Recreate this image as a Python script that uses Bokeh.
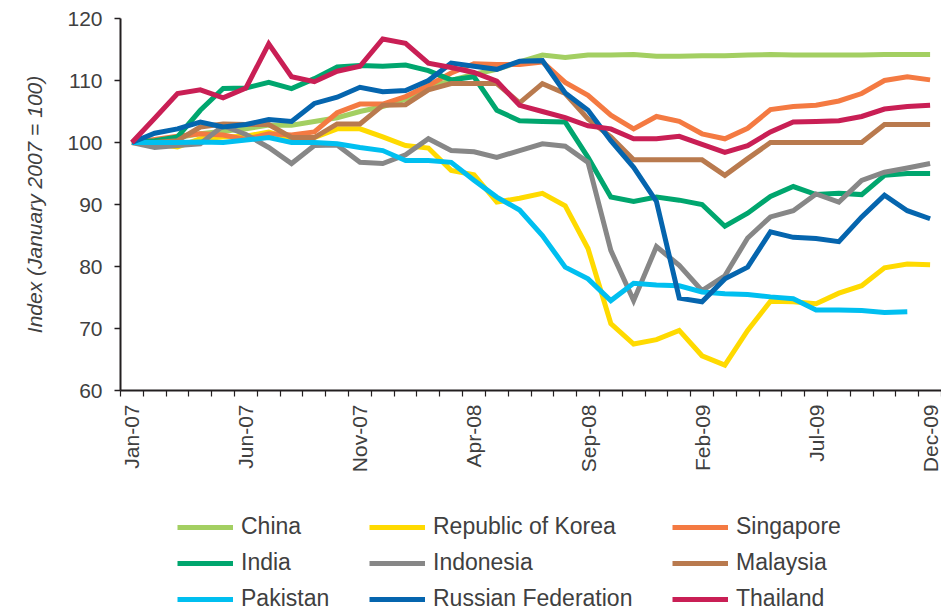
import math
import numpy as np
from bokeh.plotting import figure
from bokeh.layouts import column
from bokeh.models import FixedTicker, Legend, LegendItem, Range1d
from bokeh.embed import file_html
from bokeh.resources import INLINE

month_names = ["Jan", "Feb", "Mar", "Apr", "May", "Jun", "Jul", "Aug", "Sep", "Oct", "Nov", "Dec"]
years = ["07", "08", "09"]
months = [f"{m}-{y}" for y in years for m in month_names]
label_every = 5

china = [100.0, 100.3, 100.8, 101.4, 101.8, 102.2, 102.8, 102.8, 103.4, 104.0, 105.0, 105.8,
         107.0, 108.8, 110.0, 111.0, 111.8, 113.0, 114.1, 113.7, 114.1, 114.1, 114.2, 113.9,
         113.9, 114.0, 114.0, 114.1, 114.2, 114.1, 114.1, 114.1, 114.1, 114.2, 114.2, 114.2]
korea = [100.0, 99.8, 99.3, 100.6, 100.9, 101.0, 101.7, 100.6, 100.8, 102.2, 102.2, 100.9,
         99.5, 99.1, 95.5, 94.8, 90.4, 91.0, 91.8, 89.8, 82.9, 70.8, 67.5, 68.2,
         69.7, 65.6, 64.1, 69.7, 74.4, 74.3, 74.0, 75.7, 76.9, 79.8, 80.4, 80.3]
singapore = [100.0, 100.5, 101.0, 101.4, 101.2, 100.5, 101.4, 101.2, 101.7, 104.8, 106.2, 106.2,
             107.4, 109.2, 111.2, 112.7, 112.6, 112.6, 113.0, 109.7, 107.6, 104.4, 102.2, 104.2,
             103.4, 101.4, 100.6, 102.3, 105.3, 105.8, 106.0, 106.7, 107.9, 110.0, 110.6, 110.1]
india = [100.0, 100.3, 100.9, 105.2, 108.7, 108.8, 109.7, 108.7, 110.3, 112.2, 112.4, 112.3,
         112.5, 111.6, 110.1, 110.6, 105.2, 103.5, 103.4, 103.3, 97.6, 91.2, 90.5, 91.2,
         90.7, 90.0, 86.5, 88.6, 91.3, 92.9, 91.6, 91.8, 91.6, 94.7, 95.0, 95.0]
indonesia = [100.0, 99.2, 99.5, 99.8, 102.7, 101.3, 99.2, 96.6, 99.5, 99.6, 96.8, 96.6,
             98.0, 100.6, 98.7, 98.5, 97.6, 98.7, 99.8, 99.4, 96.8, 82.6, 74.5, 83.2,
             80.2, 76.1, 78.5, 84.6, 88.0, 89.0, 91.7, 90.4, 93.9, 95.2, 95.9, 96.6]
malaysia = [100.0, 100.0, 100.3, 102.5, 103.0, 102.9, 102.9, 100.8, 100.8, 103.0, 103.0, 106.0,
            106.1, 108.5, 109.5, 109.5, 109.5, 106.4, 109.5, 107.9, 103.8, 100.9, 97.2, 97.2,
            97.2, 97.2, 94.7, 97.4, 100.0, 100.0, 100.0, 100.0, 100.0, 102.9, 102.9, 102.9]
pakistan = [100.0, 100.0, 100.0, 100.1, 100.0, 100.4, 100.8, 100.0, 100.0, 99.8, 99.2, 98.7,
            97.1, 97.1, 96.8, 93.9, 91.2, 89.1, 85.0, 79.9, 78.0, 74.5, 77.3, 77.0,
            76.9, 75.9, 75.6, 75.5, 75.1, 74.8, 73.0, 73.0, 72.9, 72.6, 72.7, None]
russia = [100.0, 101.5, 102.2, 103.3, 102.5, 102.9, 103.7, 103.4, 106.3, 107.3, 108.9, 108.2,
          108.4, 110.0, 112.8, 112.3, 111.8, 113.1, 113.2, 108.0, 105.2, 100.3, 96.0, 90.5,
          74.9, 74.3, 78.0, 79.9, 85.6, 84.7, 84.5, 84.0, 88.0, 91.5, 89.0, 87.7]
thailand = [100.0, 103.9, 107.9, 108.5, 107.2, 108.8, 115.9, 110.6, 109.8, 111.5, 112.3, 116.7,
            116.0, 112.8, 112.1, 111.3, 109.9, 106.0, 105.0, 104.0, 102.7, 102.2, 100.6, 100.6,
            101.0, 99.7, 98.4, 99.5, 101.7, 103.3, 103.4, 103.5, 104.2, 105.4, 105.8, 106.0]

series_names = ["China", "Republic of Korea", "Singapore", "India", "Indonesia", "Malaysia",
                "Pakistan", "Russian Federation", "Thailand"]
series_values = [china, korea, singapore, india, indonesia, malaysia, pakistan, russia, thailand]
series_colors = ["#A3CF62", "#FFDA00", "#F47A42", "#00A66E", "#878787", "#B97A4E",
                 "#00BFF0", "#0565AE", "#C91F55"]
y_ticks = [60, 70, 80, 90, 100, 110, 120]

FONT = "Liberation Sans"
TXT = "#404040"
AX = "#231F20"

n = len(months)
x = list(range(n))

p = figure(width=941, height=490, output_backend="svg", toolbar_location=None,
           x_range=Range1d(-0.5, n - 0.5), y_range=Range1d(60, 120),
           min_border_left=120, min_border_right=0, min_border_top=18, min_border_bottom=100)
p.outline_line_color = None
p.xgrid.visible = False
p.ygrid.visible = False

for name, vals, col in zip(series_names, series_values, series_colors):
    yv = [np.nan if v is None else v for v in vals]
    p.line(x, yv, line_color=col, line_width=5, line_join="miter")

# y axis
yax = p.yaxis[0]
yax.ticker = FixedTicker(ticks=y_ticks, minor_ticks=[])
yax.axis_line_color = AX
yax.axis_line_width = 2
yax.major_tick_line_color = AX
yax.major_tick_line_width = 1.5
yax.major_tick_in = 0
yax.major_tick_out = 6
yax.minor_tick_line_color = None
yax.major_label_text_font = FONT
yax.major_label_text_font_size = "21px"
yax.major_label_text_color = TXT
yax.major_label_standoff = 12
yax.axis_label = "Index (January 2007 = 100)"
yax.axis_label_text_font = FONT
yax.axis_label_text_font_style = "italic"
yax.axis_label_text_font_size = "21px"
yax.axis_label_text_color = TXT
yax.axis_label_standoff = 18

# x axis
xax = p.xaxis[0]
major = [i for i in x if i % label_every == 0]
bounds = [i - 0.5 for i in range(n + 1)]
xax.ticker = FixedTicker(ticks=major, minor_ticks=bounds)
xax.major_label_overrides = {i: months[i] for i in major}
xax.major_label_orientation = math.pi / 2
xax.axis_line_color = AX
xax.axis_line_width = 2
xax.major_tick_line_color = None
xax.major_tick_in = 0
xax.major_tick_out = 0
xax.minor_tick_line_color = AX
xax.minor_tick_line_width = 1.2
xax.minor_tick_in = 0
xax.minor_tick_out = 6
xax.major_label_text_font = FONT
xax.major_label_text_font_size = "21px"
xax.major_label_text_color = TXT
xax.major_label_standoff = 8

# legend figure (three columns); its lines lie outside its visible y range
lg = figure(width=941, height=123, output_backend="svg", toolbar_location=None,
            x_range=Range1d(-0.5, n - 0.5), y_range=Range1d(0, 1),
            min_border_left=0, min_border_right=0, min_border_top=0, min_border_bottom=0)
lg.axis.visible = False
lg.xgrid.visible = False
lg.ygrid.visible = False
lg.outline_line_color = None
lg_renderers = []
for vals, col in zip(series_values, series_colors):
    yv = [np.nan if v is None else v for v in vals]
    lg_renderers.append(lg.line(x, yv, line_color=col, line_width=5))

cols = [[0, 3, 6], [1, 4, 7], [2, 5, 8]]
col_x = [57, 249, 552]
for idxs, vx in zip(cols, col_x):
    items = [LegendItem(label=series_names[i], renderers=[lg_renderers[i]]) for i in idxs]
    leg = Legend(items=items, location=(vx, 1), orientation="vertical",
                 glyph_width=56, glyph_height=20, label_height=20, label_standoff=8,
                 spacing=9, padding=0, margin=0,
                 label_text_font=FONT, label_text_font_size="23px", label_text_color=TXT,
                 border_line_alpha=0, background_fill_alpha=0)
    lg.add_layout(leg)

layout = column(p, lg, spacing=0)
open("out.html", "w").write(file_html(layout, INLINE))
